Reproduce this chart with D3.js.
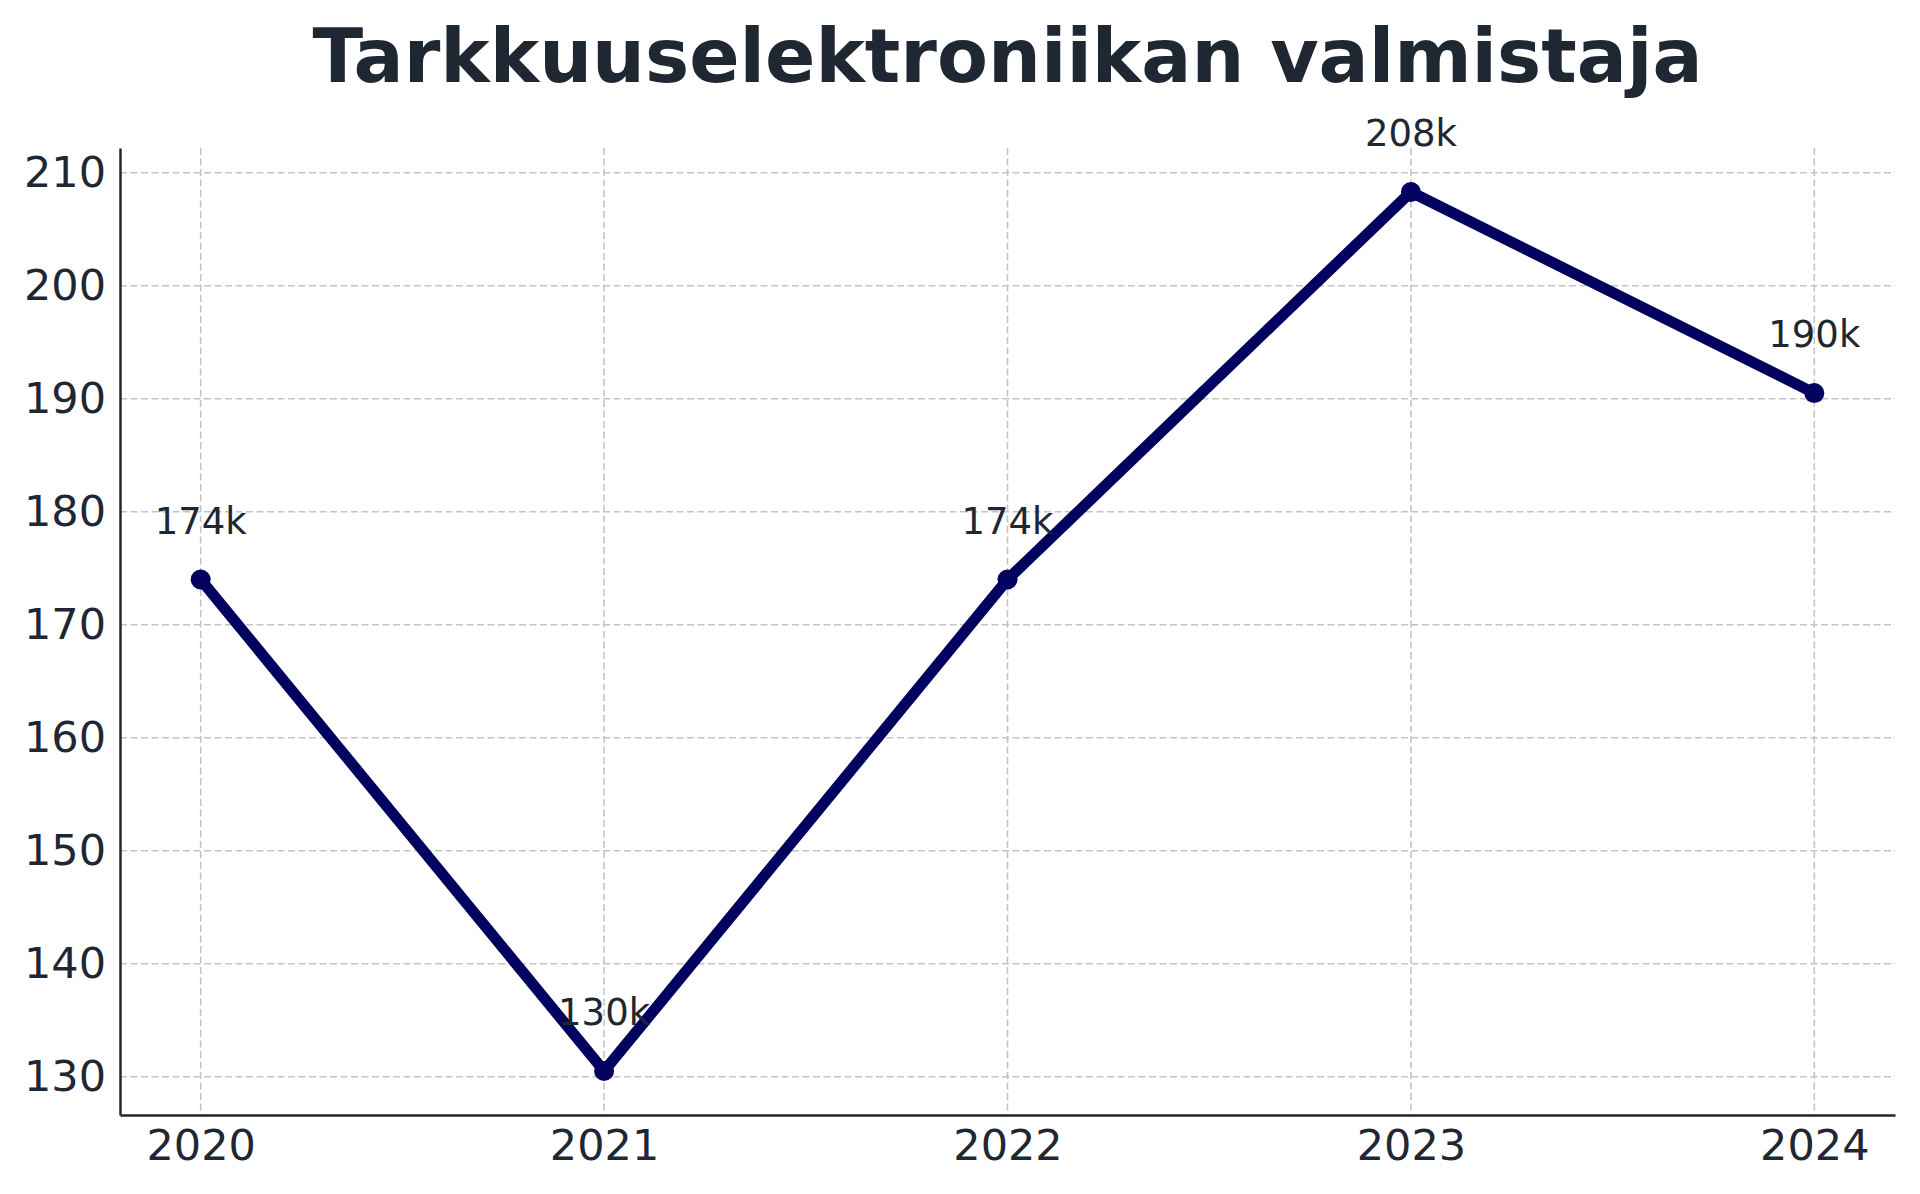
<!DOCTYPE html>
<html>
<head>
<meta charset="utf-8">
<script src="https://cdn.jsdelivr.net/npm/d3@7"></script>
<style>
  html, body { margin: 0; padding: 0; background: #ffffff; }
  svg { display: block; }
</style>
</head>
<body>
<div id="chart"></div>
<script>
const title = "Tarkkuuselektroniikan valmistaja";
const years = [2020, 2021, 2022, 2023, 2024];
const values = [174.0, 130.5, 174.0, 208.3, 190.5];
const pointLabels = ["174k", "130k", "174k", "208k", "190k"];
const yTicks = [130, 140, 150, 160, 170, 180, 190, 200, 210];

const W = 1920, H = 1194;
const mLeft = 120, mRight = 1895, mTop = 148, mBottom = 1115;
const textColor = "#1f2733";
const lineColor = "#03035f";
const font = "'DejaVu Sans', sans-serif";

const svg = d3.select("#chart").append("svg")
  .attr("width", W).attr("height", H)
  .attr("viewBox", `0 0 ${W} ${H}`);

const yMin = d3.min(values), yMax = d3.max(values);
const yPad = (yMax - yMin) * 0.05;
const x = d3.scaleLinear().domain([years[0] - 0.2, years[years.length - 1] + 0.2]).range([mLeft, mRight]);
const y = d3.scaleLinear().domain([yMin - yPad, yMax + yPad]).range([mBottom, mTop]);

// grid
const grid = svg.append("g");
grid.selectAll("line.h").data(yTicks).join("line")
  .attr("x1", mLeft).attr("x2", mRight)
  .attr("y1", d => y(d)).attr("y2", d => y(d))
  .attr("stroke", "#c4c4c4").attr("stroke-width", 1.6)
  .attr("stroke-dasharray", "7,3.5");
grid.selectAll("line.v").data(years).join("line")
  .attr("x1", d => x(d)).attr("x2", d => x(d))
  .attr("y1", mTop).attr("y2", mBottom)
  .attr("stroke", "#c4c4c4").attr("stroke-width", 1.6)
  .attr("stroke-dasharray", "7,3.5");

// axes
const yAxis = d3.axisLeft(y).tickValues(yTicks).tickSize(0).tickPadding(14).tickFormat(d3.format("d"));
const gy = svg.append("g").attr("transform", `translate(${mLeft},0)`).call(yAxis);
gy.select(".domain").attr("stroke", textColor).attr("stroke-width", 2.5);
gy.selectAll("text").attr("font-family", font).attr("font-size", 43).attr("fill", textColor);

const xAxis = d3.axisBottom(x).tickValues(years).tickSize(0).tickPadding(14).tickFormat(d3.format("d"));
const gx = svg.append("g").attr("transform", `translate(0,${mBottom})`).call(xAxis);
gx.select(".domain").attr("stroke", textColor).attr("stroke-width", 2.5);
gx.selectAll("text").attr("font-family", font).attr("font-size", 43).attr("fill", textColor);

// line
const data = years.map((yr, i) => ({ yr, v: values[i], lab: pointLabels[i] }));
svg.append("path").datum(data)
  .attr("fill", "none").attr("stroke", lineColor).attr("stroke-width", 11)
  .attr("stroke-linejoin", "round").attr("stroke-linecap", "round")
  .attr("d", d3.line().x(d => x(d.yr)).y(d => y(d.v)));

svg.selectAll("circle.pt").data(data).join("circle")
  .attr("cx", d => x(d.yr)).attr("cy", d => y(d.v)).attr("r", 10)
  .attr("fill", lineColor);

svg.selectAll("text.lab").data(data).join("text")
  .attr("x", d => x(d.yr)).attr("y", d => y(d.v) - 46)
  .attr("text-anchor", "middle")
  .attr("font-family", font).attr("font-size", 37).attr("fill", textColor)
  .text(d => d.lab);

// title
svg.append("text")
  .attr("x", (mLeft + mRight) / 2).attr("y", 82)
  .attr("text-anchor", "middle")
  .attr("font-family", font).attr("font-weight", "bold").attr("font-size", 74.3)
  .attr("fill", textColor)
  .text(title);
</script>
</body>
</html>
